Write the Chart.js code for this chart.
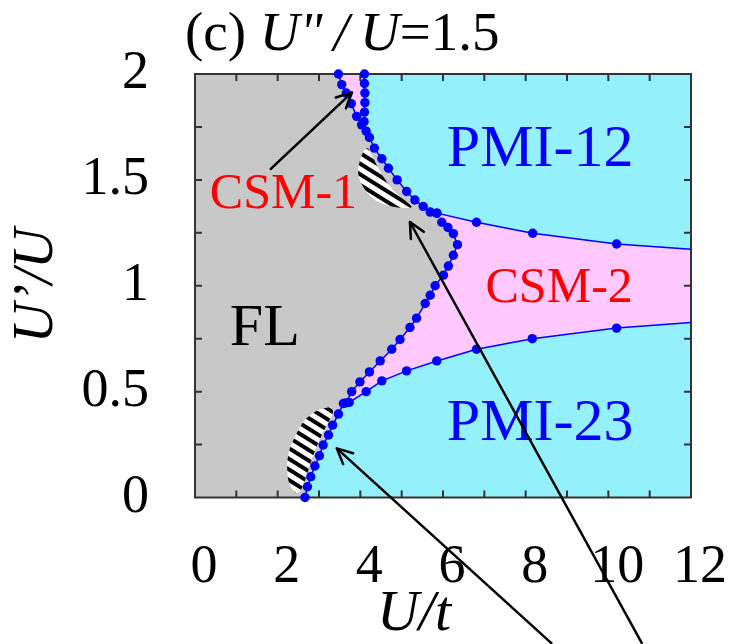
<!DOCTYPE html>
<html>
<head>
<meta charset="utf-8">
<script src="https://cdn.jsdelivr.net/npm/chart.js@4.4.1/dist/chart.umd.min.js"></script>
<style>
  html, body { margin: 0; padding: 0; background: #fff; }
  #wrap { width: 730px; height: 644px; }
</style>
</head>
<body>
<div id="wrap"><canvas id="phase"></canvas></div>
<script>
// phase boundaries, points are [U/t, U'/U]
const csm1Left = [[3.47, 2.0], [3.55, 1.95], [3.66, 1.91], [3.78, 1.86], [3.91, 1.80], [4.03, 1.76]];
const csm1Right = [[4.10, 2.0], [4.10, 1.955], [4.11, 1.91], [4.11, 1.865], [4.10, 1.82], [4.09, 1.775]];
const flPmi12 = [[4.14, 1.73], [4.22, 1.70], [4.34, 1.65], [4.52, 1.60], [4.68, 1.555], [4.89, 1.50],
  [5.12, 1.445], [5.32, 1.405], [5.52, 1.375], [5.69, 1.348], [5.85, 1.343]];
const flCsm2 = [[5.97, 1.30], [6.12, 1.275], [6.25, 1.246], [6.35, 1.194], [6.25, 1.144], [6.13, 1.093],
  [6.01, 1.05], [5.81, 1.0], [5.69, 0.955], [5.57, 0.916], [5.36, 0.847], [5.20, 0.803], [4.96, 0.746],
  [4.76, 0.70], [4.48, 0.645], [4.22, 0.593], [3.99, 0.546], [3.79, 0.50], [3.65, 0.447]];
const flPmi23 = [[3.59, 0.444], [3.47, 0.394], [3.33, 0.342], [3.23, 0.295], [3.10, 0.248], [3.01, 0.197],
  [2.90, 0.149], [2.80, 0.098], [2.72, 0.051], [2.66, 0.0]];
const csm2Upper = [[5.85, 1.343], [6.81, 1.30], [8.17, 1.248], [10.2, 1.197], [12, 1.172]];
const csm2Lower = [[3.73, 0.449], [4.14, 0.50], [4.52, 0.551], [5.12, 0.598], [5.85, 0.645], [6.81, 0.70],
  [8.16, 0.75], [10.2, 0.80], [12, 0.826]];

// hatched (striped) regions
const hatchUpper = [[4.11, 1.649], [3.99, 1.592], [3.95, 1.529], [4.07, 1.466], [4.31, 1.411], [4.64, 1.380],
  [5.04, 1.367], [5.24, 1.372], [5.08, 1.403], [4.80, 1.450], [4.56, 1.513], [4.40, 1.568], [4.28, 1.616],
  [4.19, 1.647], [4.11, 1.649]];
const hatchLower = [[3.29, 0.427], [2.98, 0.413], [2.66, 0.366], [2.44, 0.295], [2.27, 0.215], [2.23, 0.139],
  [2.27, 0.073], [2.44, 0.021], [2.56, 0.035], [2.69, 0.097], [2.82, 0.177], [2.98, 0.257], [3.15, 0.328],
  [3.34, 0.403], [3.29, 0.427]];

// arrows, [tail, tip]
const arrowCsm1 = [[1.815, 1.548], [3.80, 1.913]];
const arrowUpper = [[10.82, -0.691], [5.20, 1.301]];
const arrowLower = [[8.64, -0.691], [3.43, 0.232]];

const xTicks = [0, 2, 4, 6, 8, 10, 12];
const yTicks = [0, 0.5, 1, 1.5, 2];

const regionLabels = [
  { text: "FL", x: 1.69, y: 0.795, color: "#000000", size: 60 },
  { text: "CSM-1", x: 2.14, y: 1.427, color: "#ff0000", size: 50 },
  { text: "CSM-2", x: 8.81, y: 0.983, color: "#ff0000", size: 50 },
  { text: "PMI-12", x: 8.35, y: 1.64, color: "#0000ff", size: 60 },
  { text: "PMI-23", x: 8.35, y: 0.347, color: "#0000ff", size: 60 }
];

const SERIF = "'Liberation Serif', 'DejaVu Serif', serif";
const rev = a => a.slice().reverse();
const toXY = pts => pts.map(([x, y]) => ({ x, y }));

const bgPoly = [[0, 0], [12, 0], [12, 2], [0, 2]];
const pinkPoly = [[0, 0], ...rev(flPmi23), ...csm2Lower, ...rev(csm2Upper), ...rev(flPmi12), ...rev(csm1Right), [0, 2]];
const greyPoly = [[0, 0], ...rev(flPmi23), ...rev(flCsm2), ...rev(flPmi12), ...rev(csm1Left), [0, 2]];

function stripes() {
  const c = document.createElement("canvas");
  c.width = 16;
  c.height = 9;
  const g = c.getContext("2d");
  g.fillStyle = "#ffffff";
  g.fillRect(0, 0, 16, 9);
  g.fillStyle = "#000000";
  g.fillRect(0, 0, 16, 4);
  const p = g.createPattern(c, "repeat");
  p.setTransform(new DOMMatrix().rotate(32));
  return p;
}

function area(pts, color, order, extra) {
  return Object.assign({
    data: toXY(pts),
    backgroundColor: color,
    borderWidth: 0,
    pointRadius: 0,
    fill: "shape",
    order
  }, extra || {});
}

function boundary(pts) {
  return {
    data: toXY(pts),
    borderColor: "#0000ff",
    borderWidth: 1.5,
    backgroundColor: "#0000ff",
    pointBackgroundColor: "#0000ff",
    pointBorderWidth: 0,
    pointRadius: ctx => (ctx.raw && ctx.raw.x >= 12 ? 0 : 4.7),
    fill: false,
    clip: false,
    order: 2
  };
}

function arrow(pts) {
  return {
    data: toXY(pts),
    borderColor: "#000000",
    borderWidth: 2.5,
    pointRadius: 0,
    fill: false,
    clip: false,
    order: 1
  };
}

const hatch = stripes();

const frameAndLabels = {
  id: "frameAndLabels",
  afterDatasetDraw(chart, args) {
    if (!chart.data.datasets[args.index].frameAfter) return;
    const { ctx, chartArea: a, scales: { x, y } } = chart;
    ctx.save();
    ctx.strokeStyle = "#333333";
    ctx.lineWidth = 2;
    ctx.strokeRect(a.left, a.top, a.right - a.left, a.bottom - a.top);
    ctx.beginPath();
    x.ticks.forEach(t => {
      const px = x.getPixelForValue(t.value);
      if (px <= a.left + 1 || px >= a.right - 1) return;
      ctx.moveTo(px, a.bottom); ctx.lineTo(px, a.bottom - 7);
      ctx.moveTo(px, a.top); ctx.lineTo(px, a.top + 7);
    });
    y.ticks.forEach(t => {
      const py = y.getPixelForValue(t.value);
      if (py <= a.top + 1 || py >= a.bottom - 1) return;
      ctx.moveTo(a.left, py); ctx.lineTo(a.left + 7, py);
      ctx.moveTo(a.right, py); ctx.lineTo(a.right - 7, py);
    });
    ctx.stroke();
    ctx.textAlign = "center";
    ctx.textBaseline = "middle";
    regionLabels.forEach(l => {
      ctx.font = l.size + "px " + SERIF;
      ctx.fillStyle = l.color;
      ctx.fillText(l.text, x.getPixelForValue(l.x), y.getPixelForValue(l.y));
    });
    ctx.restore();
  },
  afterDatasetsDraw(chart) {
    const { ctx, scales: { x, y } } = chart;
    ctx.save();
    ctx.strokeStyle = "#000000";
    ctx.lineWidth = 2.5;
    ctx.lineCap = "round";
    [arrowCsm1, arrowUpper, arrowLower].forEach(([tail, tip]) => {
      const tx = x.getPixelForValue(tip[0]), ty = y.getPixelForValue(tip[1]);
      const sx = x.getPixelForValue(tail[0]), sy = y.getPixelForValue(tail[1]);
      const ang = Math.atan2(ty - sy, tx - sx);
      ctx.beginPath();
      [-0.45, 0.45].forEach(d => {
        ctx.moveTo(tx, ty);
        ctx.lineTo(tx - 17 * Math.cos(ang + d), ty - 17 * Math.sin(ang + d));
      });
      ctx.stroke();
    });
    // panel title
    const parts = [["(c) ", "normal"], ["U\"\u2009/\u2009U", "italic"], ["=1.5", "normal"]];
    let cx = 185;
    ctx.fillStyle = "#000000";
    ctx.textBaseline = "alphabetic";
    ctx.textAlign = "left";
    parts.forEach(([s, style]) => {
      ctx.font = style + " 55px " + SERIF;
      ctx.fillText(s, cx, 50);
      cx += ctx.measureText(s).width;
    });
    ctx.restore();
  }
};

new Chart(document.getElementById("phase"), {
  type: "line",
  data: {
    datasets: [
      area(bgPoly, "#94f0fa", 10),
      area(pinkPoly, "#ffc8ff", 9),
      area(greyPoly, "#c8c8c8", 8),
      area(hatchUpper, hatch, 7, { tension: 0.3 }),
      area(hatchLower, hatch, 6, { tension: 0.3, frameAfter: true }),
      boundary(csm1Left),
      boundary(csm1Right),
      boundary(flPmi12),
      boundary(flCsm2),
      boundary(flPmi23),
      boundary(csm2Upper),
      boundary(csm2Lower),
      arrow(arrowCsm1),
      arrow(arrowUpper),
      arrow(arrowLower)
    ]
  },
  options: {
    responsive: true,
    maintainAspectRatio: false,
    animation: false,
    events: [],
    layout: { padding: { top: 74, right: 39, left: 0, bottom: 0 } },
    plugins: {
      legend: { display: false },
      tooltip: { enabled: false }
    },
    scales: {
      x: {
        type: "linear",
        min: 0,
        max: 12,
        grid: { display: false },
        border: { display: false },
        afterFit: s => { s.height = 146.5; s.paddingLeft = 0; s.paddingRight = 0; },
        ticks: {
          stepSize: 1,
          autoSkip: false,
          maxRotation: 0,
          padding: 30,
          labelOffset: 9,
          color: "#000000",
          font: { family: SERIF, size: 54 },
          callback: v => (xTicks.includes(v) ? String(v) : "")
        },
        title: {
          display: true,
          text: "U/t    ",
          color: "#000000",
          font: { family: SERIF, size: 58, style: "italic", lineHeight: 1 },
          padding: { top: 0, bottom: 0 }
        }
      },
      y: {
        type: "linear",
        min: 0,
        max: 2,
        grid: { display: false },
        border: { display: false },
        afterFit: s => { s.width = 195; s.paddingTop = 0; s.paddingBottom = 0; },
        ticks: {
          stepSize: 0.25,
          autoSkip: false,
          padding: 38,
          color: "#000000",
          font: { family: SERIF, size: 54 },
          callback: v => (yTicks.includes(v) ? String(v) : "")
        },
        title: {
          display: true,
          text: "U\u2019/U",
          color: "#000000",
          font: { family: SERIF, size: 56, style: "italic", lineHeight: 1 },
          padding: { top: 9, bottom: 0 }
        }
      }
    }
  },
  plugins: [frameAndLabels]
});
</script>
</body>
</html>
